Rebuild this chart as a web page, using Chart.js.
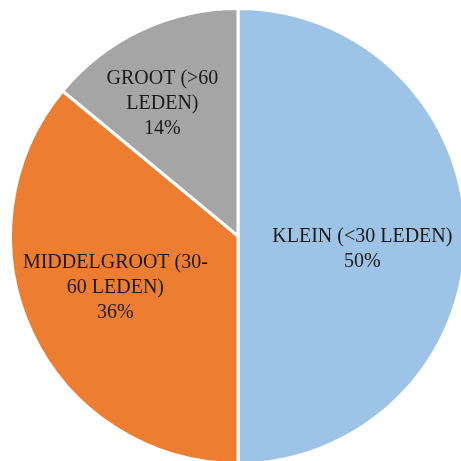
<!DOCTYPE html>
<html>
<head>
<meta charset="utf-8">
<script src="https://cdn.jsdelivr.net/npm/chart.js@4.4.0/dist/chart.umd.min.js"></script>
<style>
  html, body { margin: 0; padding: 0; background: #ffffff; overflow: hidden; }
  #wrap { width: 476px; height: 472px; position: relative; }
</style>
</head>
<body>
<div id="wrap"><canvas id="pieChart"></canvas></div>
<script>
// Chart data
const categories = ['KLEIN (<30 LEDEN)', 'MIDDELGROOT (30-60 LEDEN)', 'GROOT (>60 LEDEN)'];
const labelLines = [
  ['KLEIN (<30 LEDEN)'],
  ['MIDDELGROOT (30-', '60 LEDEN)'],
  ['GROOT (>60', 'LEDEN)']
];
const shares = [50, 36, 14];
const sliceColors = ['#9DC3E6', '#ED7D31', '#A5A5A5'];

/**
 * Draws the category name and percentage inside each slice
 */
const sliceLabels = {
  id: 'sliceLabels',
  afterDatasetsDraw(chart, args, opts) {
    const ctx = chart.ctx;
    const meta = chart.getDatasetMeta(0);
    const total = shares.reduce((s, v) => s + v, 0);
    ctx.save();
    ctx.fillStyle = '#1a1a1a';
    ctx.font = opts.font;
    ctx.textAlign = 'center';
    ctx.textBaseline = 'middle';
    meta.data.forEach((arc, i) => {
      const p = arc.getProps(['x', 'y', 'startAngle', 'endAngle', 'outerRadius'], true);
      const mid = (p.startAngle + p.endAngle) / 2 + opts.angleShift[i];
      const r = p.outerRadius * opts.radiusFactor[i];
      const cx = p.x + Math.cos(mid) * r;
      const cy = p.y + Math.sin(mid) * r;
      const lines = labelLines[i].concat([Math.round(shares[i] / total * 100) + '%']);
      const top = cy - (lines.length - 1) * opts.lineHeight / 2;
      lines.forEach((line, j) => ctx.fillText(line, cx, top + j * opts.lineHeight));
    });
    ctx.restore();
  }
};

const ctx = document.getElementById('pieChart').getContext('2d');
new Chart(ctx, {
  type: 'pie',
  data: {
    labels: categories,
    datasets: [{
      data: shares,
      backgroundColor: sliceColors,
      borderColor: '#ffffff',
      borderWidth: 3
    }]
  },
  options: {
    responsive: true,
    maintainAspectRatio: false,
    animation: false,
    layout: { padding: { left: 9, top: 7, right: 9, bottom: 7 } },
    plugins: {
      legend: { display: false },
      tooltip: { enabled: false },
      sliceLabels: {
        font: '20px "Liberation Serif", serif',
        lineHeight: 25,
        radiusFactor: [0.55, 0.585, 0.67],
        angleShift: [0.11, 0.04, -0.079]
      }
    }
  },
  plugins: [sliceLabels]
});
</script>
</body>
</html>
